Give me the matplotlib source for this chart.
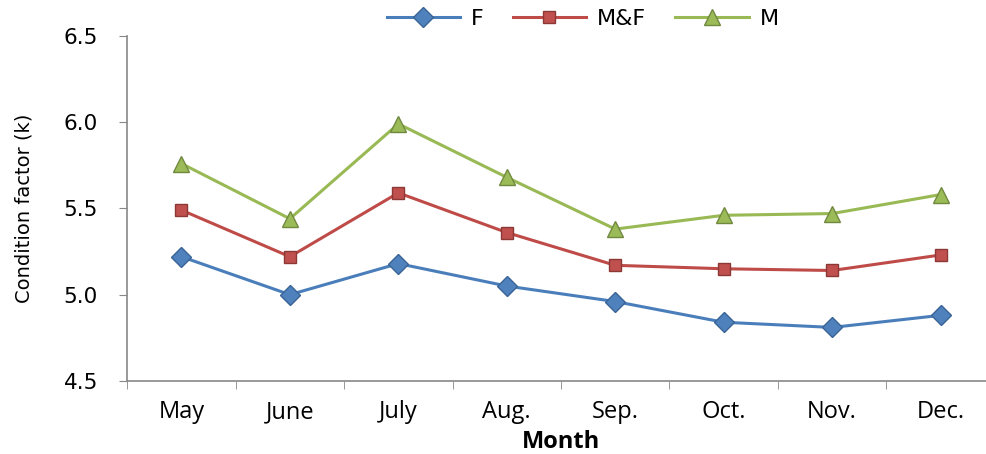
import matplotlib.pyplot as plt
import numpy as np

months = ['May', 'June', 'July', 'Aug.', 'Sep.', 'Oct.', 'Nov.', 'Dec.']
f_vals = [5.22, 5.00, 5.18, 5.05, 4.96, 4.84, 4.81, 4.88]
mf_vals = [5.49, 5.22, 5.59, 5.36, 5.17, 5.15, 5.14, 5.23]
m_vals = [5.76, 5.44, 5.99, 5.68, 5.38, 5.46, 5.47, 5.58]

fig = plt.figure(figsize=(9.86, 4.54), dpi=100)
ax = fig.add_axes([0.129, 0.161, 0.88, 0.76])

x = np.arange(len(months))
ax.plot(x, f_vals, color='#4A7EBB', lw=2.2, marker='D', ms=10,
        mfc='#4F81BD', mec='#3A6496', mew=1, label='F')
ax.plot(x, mf_vals, color='#BE4B48', lw=2.2, marker='s', ms=9,
        mfc='#C0504D', mec='#8C3836', mew=1, label='M&F')
ax.plot(x, m_vals, color='#98B954', lw=2.2, marker='^', ms=11,
        mfc='#9BBB59', mec='#71893F', mew=1, label='M')

ax.set_xlim(-0.5, len(months) - 0.5)
ax.set_ylim(4.5, 6.5)
ax.set_yticks([4.5, 5.0, 5.5, 6.0, 6.5])
ax.set_yticklabels(['4.5', '5.0', '5.5', '6.0', '6.5'], fontsize=15.5, family='DejaVu Sans')
ax.set_xticks(x)
ax.set_xticklabels(months, fontsize=17, family='Open Sans')
ax.set_xticks(np.arange(-0.5, len(months), 1), minor=True)
ax.tick_params(axis='x', which='major', length=0, pad=14)
ax.tick_params(axis='x', which='minor', length=6, color='#888888')
ax.tick_params(axis='y', length=6, color='#888888', pad=15)

for s in ['top', 'right']:
    ax.spines[s].set_visible(False)
for s in ['left', 'bottom']:
    ax.spines[s].set_color('#888888')
    ax.spines[s].set_linewidth(1.2)

ax.set_xlabel('Month', fontsize=17, fontweight='bold', family='Open Sans', labelpad=4)
ax.set_ylabel('Condition factor (k)', fontsize=14, family='Liberation Sans Narrow', labelpad=22)

ax.legend(loc='center', bbox_to_anchor=(0.525, 1.05), ncol=3, frameon=False,
          fontsize=16, handlelength=3.3, columnspacing=1.3, handletextpad=0.5)

plt.savefig('out.png', dpi=100)
